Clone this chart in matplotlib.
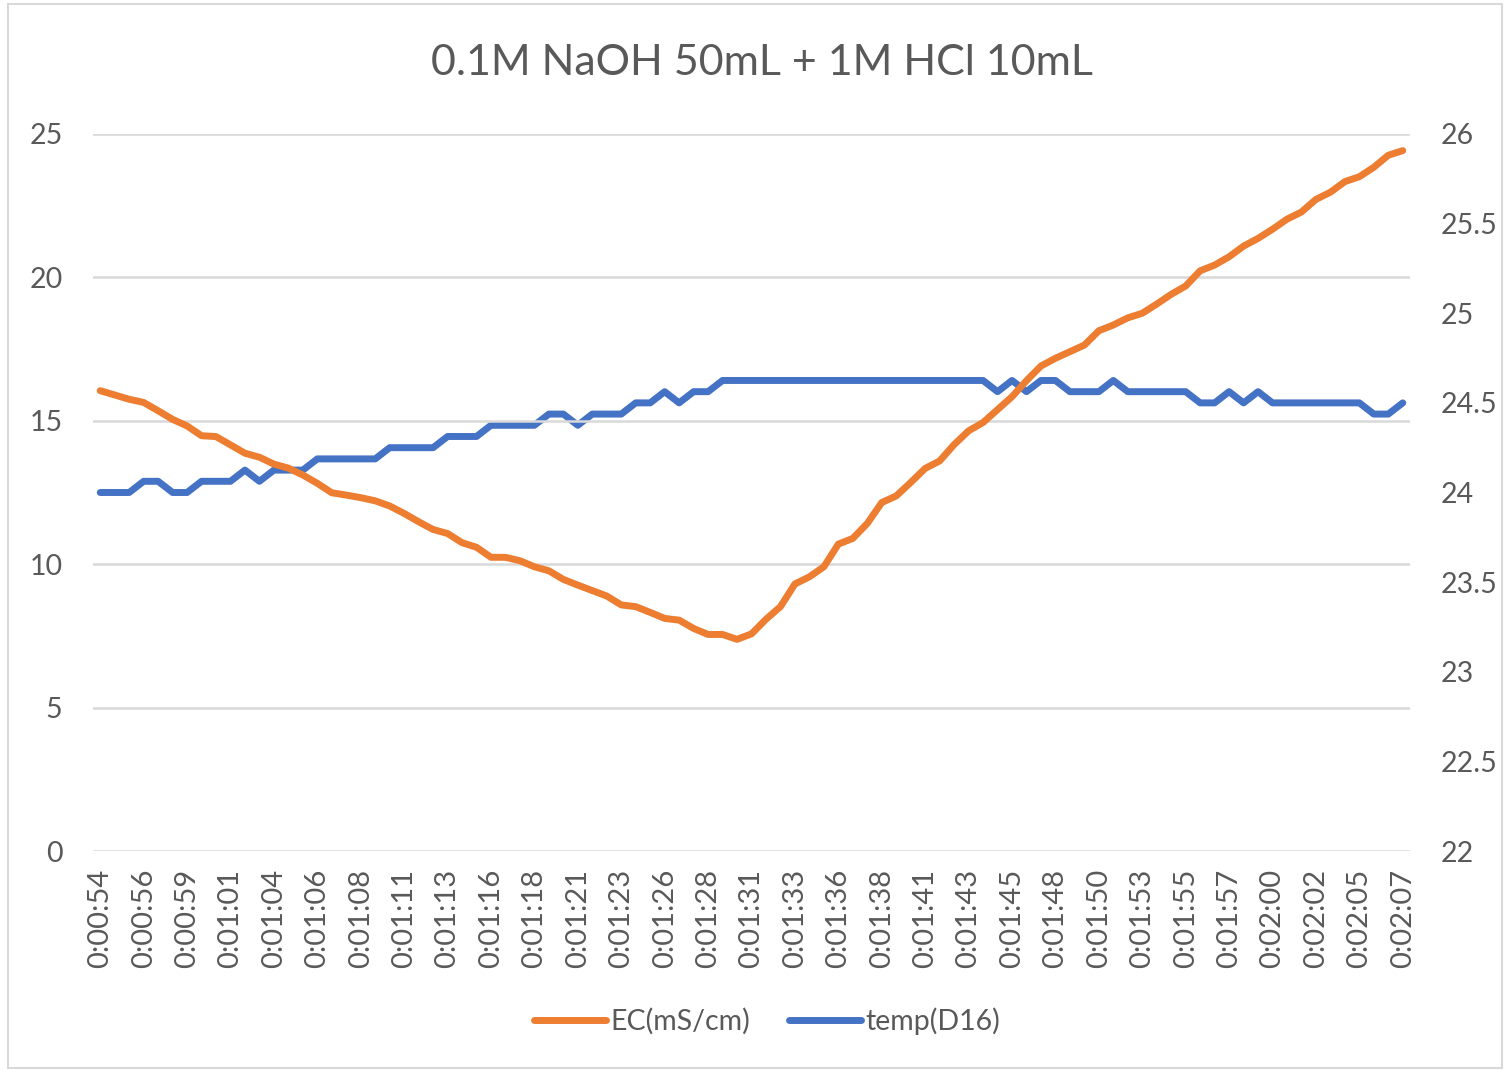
import matplotlib
matplotlib.use("Agg")
import matplotlib.pyplot as plt
from matplotlib.patches import Rectangle
import numpy as np

plt.rcParams['font.family'] = ['Lato', 'DejaVu Sans']

title = "0.1M NaOH 50mL + 1M HCl 10mL"
tick_labels = ["0:00:54", "0:00:56", "0:00:59", "0:01:01", "0:01:04", "0:01:06", "0:01:08",
               "0:01:11", "0:01:13", "0:01:16", "0:01:18", "0:01:21", "0:01:23", "0:01:26",
               "0:01:28", "0:01:31", "0:01:33", "0:01:36", "0:01:38", "0:01:41", "0:01:43",
               "0:01:45", "0:01:48", "0:01:50", "0:01:53", "0:01:55", "0:01:57", "0:02:00",
               "0:02:02", "0:02:05", "0:02:07"]

ec = [16.05, 15.90, 15.75, 15.64, 15.35, 15.05, 14.82, 14.48, 14.45, 14.16,
      13.87, 13.73, 13.49, 13.35, 13.11, 12.82, 12.49, 12.41, 12.32, 12.21,
      12.03, 11.77, 11.48, 11.21, 11.07, 10.75, 10.59, 10.24, 10.24, 10.12,
      9.91, 9.77, 9.47, 9.27, 9.08, 8.89, 8.58, 8.52, 8.32, 8.11,
      8.05, 7.76, 7.55, 7.55, 7.38, 7.57, 8.08, 8.52, 9.31, 9.56,
      9.91, 10.70, 10.90, 11.42, 12.15, 12.38, 12.85, 13.34, 13.60, 14.17,
      14.65, 14.94, 15.39, 15.84, 16.40, 16.91, 17.18, 17.41, 17.64, 18.14,
      18.34, 18.59, 18.75, 19.07, 19.41, 19.70, 20.23, 20.43, 20.72, 21.09,
      21.36, 21.68, 22.03, 22.28, 22.72, 22.97, 23.34, 23.51, 23.84, 24.26,
      24.42]

temp = [24.0, 24.0, 24.0, 24.0625, 24.0625, 24.0, 24.0, 24.0625, 24.0625, 24.0625,
        24.125, 24.0625, 24.125, 24.125, 24.125, 24.1875, 24.1875, 24.1875, 24.1875, 24.1875,
        24.25, 24.25, 24.25, 24.25, 24.3125, 24.3125, 24.3125, 24.375, 24.375, 24.375,
        24.375, 24.4375, 24.4375, 24.375, 24.4375, 24.4375, 24.4375, 24.5, 24.5, 24.5625,
        24.5, 24.5625, 24.5625, 24.625, 24.625, 24.625, 24.625, 24.625, 24.625, 24.625,
        24.625, 24.625, 24.625, 24.625, 24.625, 24.625, 24.625, 24.625, 24.625, 24.625,
        24.625, 24.625, 24.5625, 24.625, 24.5625, 24.625, 24.625, 24.5625, 24.5625, 24.5625,
        24.625, 24.5625, 24.5625, 24.5625, 24.5625, 24.5625, 24.5, 24.5, 24.5625, 24.5,
        24.5625, 24.5, 24.5, 24.5, 24.5, 24.5, 24.5, 24.5, 24.4375, 24.4375,
        24.5]

ORANGE = "#ED7D31"
BLUE = "#4472C4"
GREY = "#595959"
GRID = "#D9D9D9"

W, H = 1506, 1070
fig = plt.figure(figsize=(W / 100, H / 100), dpi=100)
fig.patches.append(Rectangle((8 / W, 2 / H), (W - 12) / W, (H - 6) / H, transform=fig.transFigure,
                             fill=False, edgecolor="#D9D9D9", linewidth=1.5))

ax = fig.add_axes([93 / W, 1 - 851 / H, (1410 - 93) / W, (851 - 134) / H])
ax2 = ax.twinx()

x = np.arange(len(ec))
l1, = ax.plot(x, ec, color=ORANGE, lw=5, solid_joinstyle='round', solid_capstyle='round',
              label="EC(mS/cm)", zorder=3)
l2, = ax2.plot(x, temp, color=BLUE, lw=5, solid_joinstyle='round', solid_capstyle='round',
               label="temp(D16)", zorder=3)

ax.set_xlim(-0.5, len(ec) - 0.5)
ax.set_ylim(0, 25)
ax.set_yticks([0, 5, 10, 15, 20, 25])
ax2.set_ylim(22, 26)
ax2.set_yticks([22, 22.5, 23, 23.5, 24, 24.5, 25, 25.5, 26])
ax2.set_yticklabels(["22", "22.5", "23", "23.5", "24", "24.5", "25", "25.5", "26"])

ax.set_xticks(np.arange(0, len(ec), 3))
ax.set_xticklabels(tick_labels, rotation=90)

ax.grid(axis='y', color=GRID, lw=1.8)
ax.set_axisbelow(True)
for a in (ax, ax2):
    for s in a.spines.values():
        s.set_visible(False)
    a.tick_params(length=0, labelsize=20.5, colors=GREY)
ax.tick_params(axis='x', labelsize=21)
ax.tick_params(axis='y', pad=22)
ax2.tick_params(axis='y', pad=22)
ax.tick_params(axis='x', pad=13)
ax.set_zorder(ax2.get_zorder() + 1)
ax.patch.set_visible(False)
ax2.set_zorder(0)

fig.text(762 / W, 1 - 63 / H, title, ha='center', va='center', fontsize=31, color=GREY)

fig.legend([l1, l2], ["EC(mS/cm)", "temp(D16)"], loc='center',
           bbox_to_anchor=(767 / W, 1 - 1021 / H), ncol=2, frameon=False,
           fontsize=20.5, labelcolor=GREY, handlelength=2.55, handletextpad=0.15,
           columnspacing=1.35)

fig.savefig("out.png", dpi=100)
